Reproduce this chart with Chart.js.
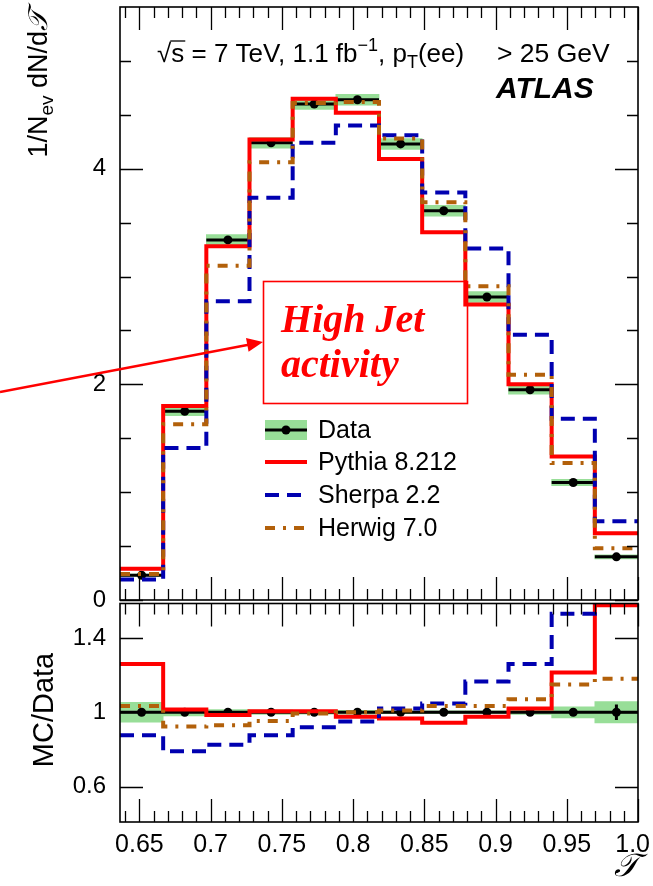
<!DOCTYPE html>
<html>
<head>
<meta charset="utf-8">
<script src="https://cdn.jsdelivr.net/npm/chart.js@4"></script>
<style>
  html, body { margin: 0; padding: 0; background: #fff; }
  #wrap { position: relative; width: 653px; height: 886px; overflow: hidden; }
  #mainChart { position: absolute; left: 0; top: 0; }
  #ratioChart { position: absolute; left: 0; top: 599px; }
</style>
</head>
<body>
<div id="wrap">
  <canvas id="mainChart" width="653" height="612"></canvas>
  <canvas id="ratioChart" width="653" height="287"></canvas>
</div>
<script>
// bin edges of tau (12 bins)
const binEdges = [0.6364, 0.6667, 0.6970, 0.7273, 0.7576, 0.7879, 0.8182, 0.8485, 0.8788, 0.9091, 0.9394, 0.9697, 1.0];

// main panel: 1/Nev dN/dT
const dataValues   = [0.23, 1.75, 3.34, 4.24, 4.60, 4.64, 4.23, 3.61, 2.81, 1.95, 1.09, 0.40];
const dataSyst     = [0.01, 0.04, 0.05, 0.05, 0.05, 0.05, 0.05, 0.05, 0.05, 0.04, 0.03, 0.02];
const pythiaValues = [0.29, 1.80, 3.28, 4.27, 4.65, 4.52, 4.09, 3.41, 2.74, 2.00, 1.33, 0.62];
const sherpaValues = [0.19, 1.41, 2.77, 3.73, 4.24, 4.40, 4.31, 3.78, 3.26, 2.46, 1.68, 0.73];
const herwigValues = [0.24, 1.63, 3.10, 4.06, 4.61, 4.62, 4.28, 3.69, 2.91, 2.09, 1.27, 0.48];

// ratio panel: MC/Data
const ratioDataValues = [1, 1, 1, 1, 1, 1, 1, 1, 1, 1, 1, 1];
const ratioDataSyst   = [0.053, 0.02, 0.015, 0.012, 0.01, 0.01, 0.008, 0.008, 0.008, 0.012, 0.03, 0.057];
const ratioDataStat   = [0.01, 0.005, 0.004, 0.004, 0.004, 0.004, 0.004, 0.005, 0.006, 0.008, 0.015, 0.042];
const pythiaRatio = [1.26, 1.015, 0.985, 1.006, 1.006, 0.976, 0.967, 0.944, 0.976, 1.02, 1.214, 1.575];
const sherpaRatio = [0.876, 0.79, 0.826, 0.876, 0.92, 0.95, 1.02, 1.047, 1.165, 1.26, 1.53, 1.80];
const herwigRatio = [1.034, 0.923, 0.93, 0.953, 0.994, 1.0, 1.01, 1.034, 1.034, 1.07, 1.15, 1.18];

// ticks
const xMajorTicks = [0.65, 0.7, 0.75, 0.8, 0.85, 0.9, 0.95, 1.0];
const xTickLabels = ['0.65', '0.7', '0.75', '0.8', '0.85', '0.9', '0.95', '1.0'];
const yMainTicks = [0, 2, 4];
const yMainMinor = [0.5, 1, 1.5, 2.5, 3, 3.5, 4.5, 5];
const yRatioTicks = [0.6, 1, 1.4];
const yRatioLabels = ['0.6', '1', '1.4'];

let xMinorTicks = [];
for (let k = 64; k < 100; k++) {
    if (k % 5 != 0) xMinorTicks.push(k / 100);
}

const legendNames = ['Data', 'Pythia 8.212', 'Sherpa 2.2', 'Herwig 7.0'];

const RED = '#ff0000', BLUE = '#0000b0', BROWN = '#b2600a', GREEN = '#98de98';
const SANS = "'Liberation Sans', Arial, sans-serif";
const SERIF = "'Liberation Serif', 'Times New Roman', serif";

//helpers to turn bins into chart points
const centers = binEdges.slice(0, -1).map((e, i) => (e + binEdges[i + 1]) / 2);

function stepPoints(values) {
    let pts = values.map((v, i) => ({ x: binEdges[i], y: v }));
    pts.push({ x: binEdges[binEdges.length - 1], y: values[values.length - 1] });
    return pts;
}

function hBars(values) {
    let pts = [];
    values.forEach((v, i) => {
        pts.push({ x: binEdges[i], y: v }, { x: binEdges[i + 1], y: v }, { x: binEdges[i + 1], y: null });
    });
    return pts;
}

function vBars(values, errs) {
    let pts = [];
    values.forEach((v, i) => {
        pts.push({ x: centers[i], y: v - errs[i] }, { x: centers[i], y: v + errs[i] }, { x: centers[i], y: null });
    });
    return pts;
}

function band(values, errs) {
    return values.map((v, i) => ({ x: centers[i], y: [v - errs[i], v + errs[i]] }));
}

function histo(label, values, color, dash, order) {
    return {
        label: label, data: stepPoints(values), stepped: true,
        borderColor: color, borderWidth: 4, borderDash: dash,
        pointRadius: 0, fill: false, order: order
    };
}

function dataSets(values, syst, stat) {
    let list = [
        { type: 'bar', data: band(values, syst), backgroundColor: GREEN, borderWidth: 0,
          barPercentage: 1, categoryPercentage: 1, order: 7 },
        { data: hBars(values), borderColor: '#000', borderWidth: 3, pointRadius: 0, spanGaps: false, order: 5 },
        { data: values.map((v, i) => ({ x: centers[i], y: v })), showLine: false,
          pointRadius: 4.5, pointBackgroundColor: '#000', pointBorderWidth: 0, order: 4 }
    ];
    if (stat) {
        list.push({ data: vBars(values, stat), borderColor: '#000', borderWidth: 3, pointRadius: 0, spanGaps: false, order: 5 });
    }
    return list;
}

//ROOT style frame with inside ticks
function drawFrame(chart, yMajor, yMinor) {
    const { ctx, chartArea: a, scales: { x, y } } = chart;
    ctx.save();
    ctx.strokeStyle = '#000';
    ctx.lineWidth = 1.3;
    ctx.beginPath();
    const xt = (list, len) => list.forEach(v => {
        const px = Math.round(x.getPixelForValue(v)) + 0.5;
        ctx.moveTo(px, a.bottom); ctx.lineTo(px, a.bottom - len);
        ctx.moveTo(px, a.top); ctx.lineTo(px, a.top + len);
    });
    const yt = (list, len) => list.forEach(v => {
        const py = Math.round(y.getPixelForValue(v)) + 0.5;
        ctx.moveTo(a.left, py); ctx.lineTo(a.left + len, py);
        ctx.moveTo(a.right, py); ctx.lineTo(a.right - len, py);
    });
    xt(xMajorTicks, 23);
    xt(xMinorTicks, 11);
    yt(yMajor, 23);
    yt(yMinor, 11);
    ctx.stroke();
    ctx.lineWidth = 1.6;
    ctx.strokeRect(a.left, a.top, a.right - a.left, a.bottom - a.top);
    ctx.restore();
}

//text pieces with sub/superscripts
function drawRuns(ctx, x, y, parts) {
    parts.forEach(p => {
        ctx.font = p.font;
        ctx.fillText(p.t, x, y + (p.dy || 0));
        x += ctx.measureText(p.t).width;
    });
    return x;
}

function runsWidth(ctx, parts) {
    let w = 0;
    parts.forEach(p => { ctx.font = p.font; w += ctx.measureText(p.t).width; });
    return w;
}

const mainDecor = {
    id: 'mainDecor',
    afterDatasetsDraw(chart) {
        drawFrame(chart, yMainTicks, yMainMinor);
    },
    afterDraw(chart) {
        const ctx = chart.ctx;
        ctx.save();
        ctx.fillStyle = '#000';
        ctx.textBaseline = 'alphabetic';
        ctx.textAlign = 'left';

        // energy / lumi line
        const f = '26px ' + SANS, fs = '18px ' + SANS;
        let x0 = 157, base = 62;
        ctx.font = f;
        const wRoot = ctx.measureText('\u221A').width;
        const wS = ctx.measureText('s').width;
        drawRuns(ctx, x0, base, [
            { t: '\u221As = 7 TeV, 1.1 fb', font: f },
            { t: '\u22121', font: fs, dy: -11 },
            { t: ', p', font: f },
            { t: 'T', font: fs, dy: 6 },
            { t: '(ee)', font: f }
        ]);
        ctx.font = '26.5px ' + SANS;
        ctx.fillText('> 25 GeV', 497, base);
        ctx.lineWidth = 1.3;
        ctx.strokeStyle = '#000';
        ctx.beginPath();
        ctx.moveTo(x0 + wRoot - 1, base - 21);
        ctx.lineTo(x0 + wRoot + wS + 1, base - 21);
        ctx.stroke();

        ctx.font = 'bold italic 30px ' + SANS;
        ctx.fillText('ATLAS', 496, 98);

        // annotation box + arrow
        ctx.strokeStyle = RED;
        ctx.fillStyle = RED;
        ctx.lineWidth = 1.6;
        ctx.strokeRect(263.5, 281.5, 204, 122);
        ctx.lineWidth = 2.5;
        const tip = [263, 342], tail = [0, 392];
        const ang = Math.atan2(tip[1] - tail[1], tip[0] - tail[0]);
        ctx.beginPath();
        ctx.moveTo(tail[0], tail[1]);
        ctx.lineTo(tip[0] - 12 * Math.cos(ang), tip[1] - 12 * Math.sin(ang));
        ctx.stroke();
        ctx.beginPath();
        ctx.moveTo(tip[0], tip[1]);
        ctx.lineTo(tip[0] - 16 * Math.cos(ang) + 7 * Math.sin(ang), tip[1] - 16 * Math.sin(ang) - 7 * Math.cos(ang));
        ctx.lineTo(tip[0] - 16 * Math.cos(ang) - 7 * Math.sin(ang), tip[1] - 16 * Math.sin(ang) + 7 * Math.cos(ang));
        ctx.closePath();
        ctx.fill();
        ctx.font = 'bold italic 40px ' + SERIF;
        ctx.fillText('High Jet', 281, 332);
        ctx.fillText('activity', 281, 377);

        // legend
        const rows = [430, 462, 495, 528];
        const lx0 = 265, lx1 = 307;
        ctx.fillStyle = GREEN;
        ctx.fillRect(lx0, rows[0] - 10, lx1 - lx0, 20);
        ctx.strokeStyle = '#000';
        ctx.lineWidth = 3;
        ctx.beginPath(); ctx.moveTo(lx0, rows[0]); ctx.lineTo(lx1, rows[0]); ctx.stroke();
        ctx.fillStyle = '#000';
        ctx.beginPath(); ctx.arc((lx0 + lx1) / 2, rows[0], 4.5, 0, Math.PI * 2); ctx.fill();
        const styles = [[RED, []], [BLUE, [14, 8]], [BROWN, [10, 8, 3, 8]]];
        styles.forEach((s, i) => {
            ctx.strokeStyle = s[0];
            ctx.lineWidth = 4;
            ctx.setLineDash(s[1]);
            ctx.beginPath(); ctx.moveTo(lx0, rows[i + 1]); ctx.lineTo(lx1, rows[i + 1]); ctx.stroke();
        });
        ctx.setLineDash([]);
        ctx.fillStyle = '#000';
        ctx.font = '25px ' + SANS;
        ctx.textBaseline = 'middle';
        legendNames.forEach((n, i) => ctx.fillText(n, 318, rows[i] + 1));

        // y title
        ctx.textBaseline = 'alphabetic';
        const tf = '27px ' + SANS, tsub = '19px ' + SANS;
        const parts = [
            { t: '1/N', font: tf },
            { t: 'ev', font: tsub, dy: 6 },
            { t: ' dN/d', font: tf },
            { t: '\uD835\uDCAF', font: 'italic 27px ' + SERIF }
        ];
        const w = runsWidth(ctx, parts);
        ctx.translate(47, 10);
        ctx.rotate(-Math.PI / 2);
        drawRuns(ctx, -w, 0, parts);
        ctx.restore();
    }
};

const ratioDecor = {
    id: 'ratioDecor',
    afterDatasetsDraw(chart) {
        drawFrame(chart, yRatioTicks, []);
    },
    afterDraw(chart) {
        const ctx = chart.ctx;
        const xs = chart.scales.x;
        ctx.save();
        ctx.fillStyle = '#000';
        // x tick labels, last one kept inside the page
        ctx.font = '25px ' + SANS;
        ctx.textBaseline = 'middle';
        ctx.textAlign = 'left';
        xMajorTicks.forEach((v, i) => {
            const w = ctx.measureText(xTickLabels[i]).width;
            const left = Math.min(xs.getPixelForValue(v) - w / 2, 650 - w);
            ctx.fillText(xTickLabels[i], left, 246);
        });
        ctx.font = 'italic 32px ' + SERIF;
        ctx.textAlign = 'center';
        ctx.textBaseline = 'alphabetic';
        ctx.fillText('\uD835\uDCAF', 626, 277);
        ctx.font = '29px ' + SANS;
        ctx.translate(53, 111);
        ctx.rotate(-Math.PI / 2);
        ctx.fillText('MC/Data', 0, 0);
        ctx.restore();
    }
};

const tickFont = { family: SANS, size: 24 };

// y scales: fixed width, no label overhang padding
const fitY = s => { s.width = 120; s.paddingTop = 0; s.paddingBottom = 0; };

new Chart(document.getElementById('mainChart'), {
    type: 'line',
    data: {
        datasets: [
            histo('Herwig 7.0', herwigValues, BROWN, [10, 8, 3, 8], 1),
            histo('Sherpa 2.2', sherpaValues, BLUE, [14, 8], 2),
            histo('Pythia 8.212', pythiaValues, RED, [], 3)
        ].concat(dataSets(dataValues, dataSyst, null))
    },
    options: {
        responsive: false,
        animation: false,
        layout: { padding: { top: 7, right: 15, bottom: 12, left: 0 } },
        plugins: { legend: { display: false }, tooltip: { enabled: false } },
        scales: {
            x: { type: 'linear', min: binEdges[0], max: 1.0, display: false, offset: false },
            y: {
                type: 'linear', min: 0, max: 5.5,
                grid: { display: false, drawTicks: false }, border: { display: false },
                afterBuildTicks: s => { s.ticks = yMainTicks.map(v => ({ value: v })); },
                afterFit: fitY,
                ticks: { font: tickFont, color: '#000', padding: 14, callback: v => String(v) }
            }
        }
    },
    plugins: [mainDecor]
});

new Chart(document.getElementById('ratioChart'), {
    type: 'line',
    data: {
        datasets: [
            histo('Herwig 7.0', herwigRatio, BROWN, [10, 8, 3, 8], 1),
            histo('Sherpa 2.2', sherpaRatio, BLUE, [14, 8], 2),
            histo('Pythia 8.212', pythiaRatio, RED, [], 3)
        ].concat(dataSets(ratioDataValues, ratioDataSyst, ratioDataStat))
    },
    options: {
        responsive: false,
        animation: false,
        layout: { padding: { top: 1, right: 15, bottom: 0, left: 0 } },
        plugins: { legend: { display: false }, tooltip: { enabled: false } },
        scales: {
            x: {
                type: 'linear', min: binEdges[0], max: 1.0, offset: false,
                grid: { display: false, drawTicks: false }, border: { display: false },
                afterBuildTicks: s => { s.ticks = xMajorTicks.map(v => ({ value: v })); },
                afterFit: s => { s.height = 64; s.paddingLeft = 0; s.paddingRight = 0; },
                ticks: { display: false }
            },
            y: {
                type: 'linear', min: 0.41, max: 1.585,
                grid: { display: false, drawTicks: false }, border: { display: false },
                afterBuildTicks: s => { s.ticks = yRatioTicks.map(v => ({ value: v })); },
                afterFit: fitY,
                ticks: { font: tickFont, color: '#000', padding: 14, callback: (v, i) => yRatioLabels[i] }
            }
        }
    },
    plugins: [ratioDecor]
});
</script>
</body>
</html>
